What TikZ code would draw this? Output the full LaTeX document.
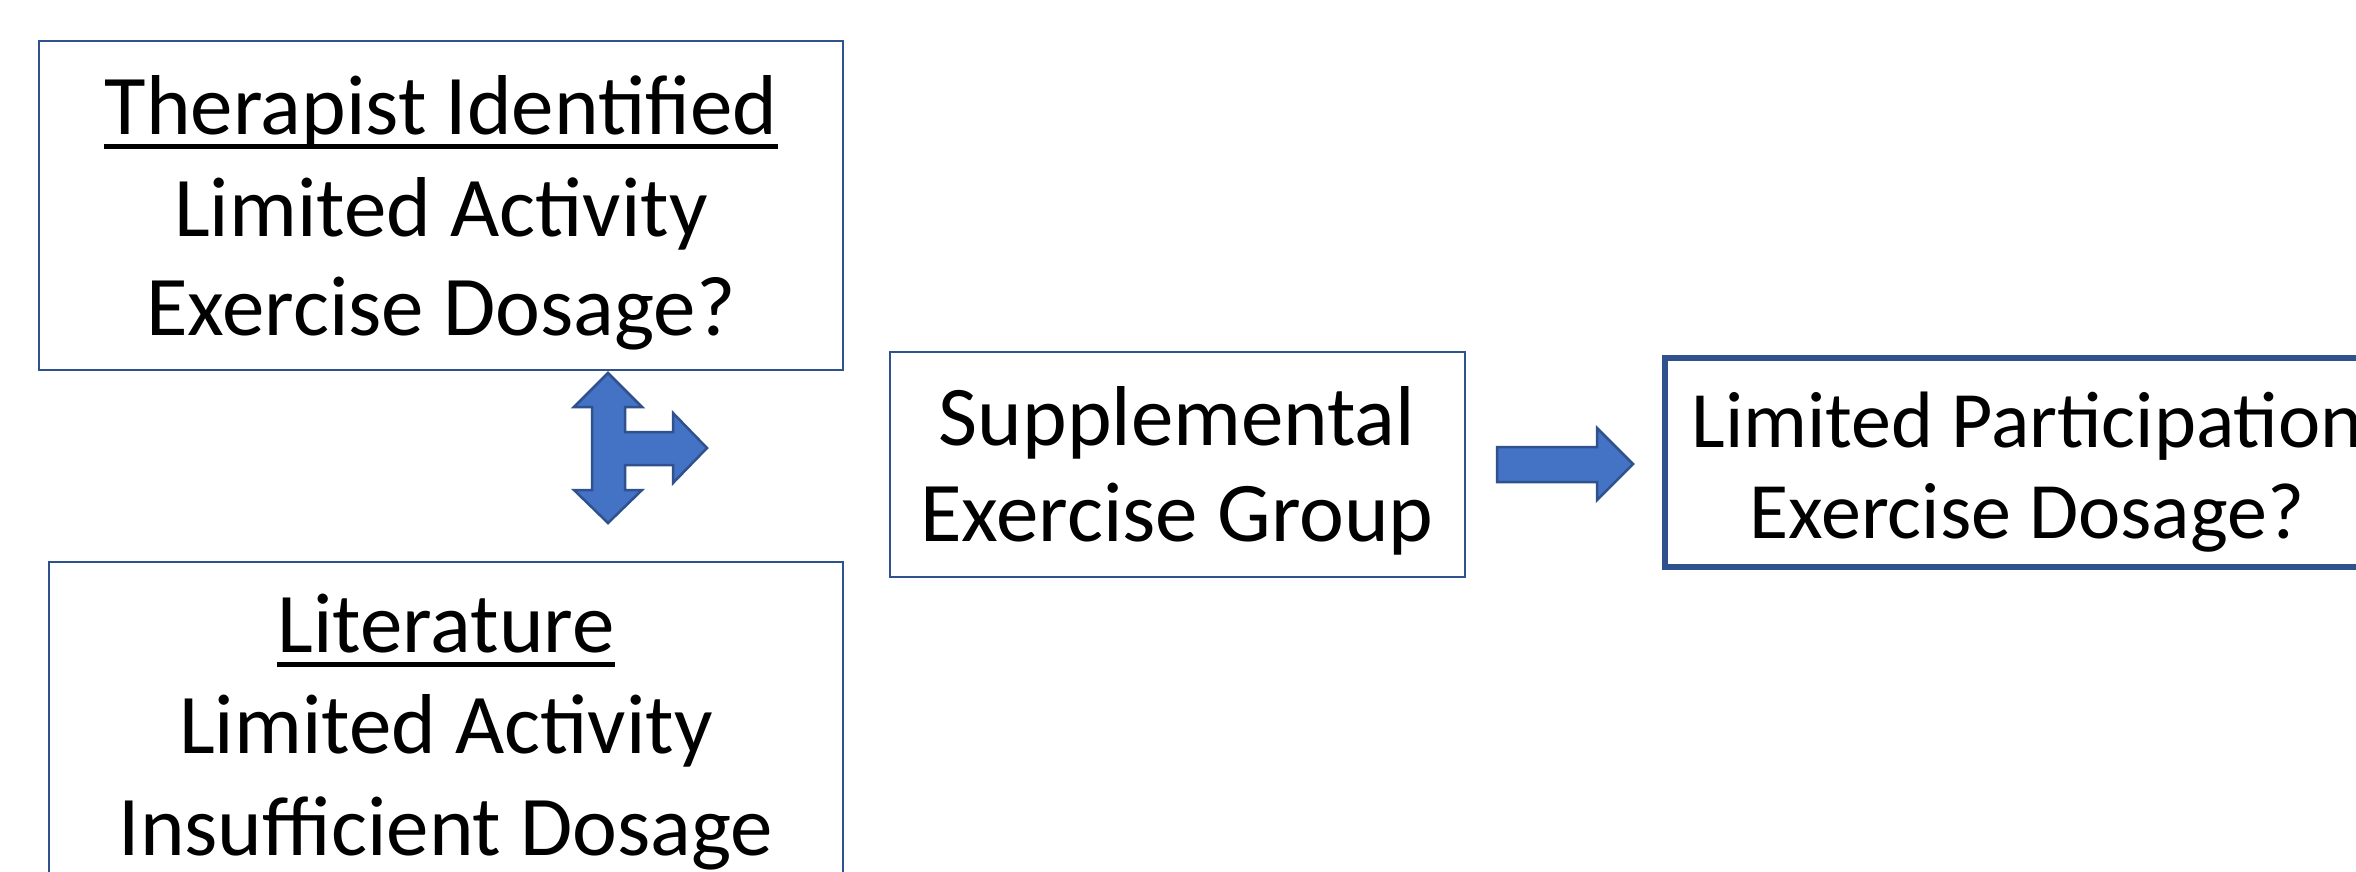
\documentclass[tikz,border=0pt]{standalone}
\usepackage{fontspec}
\setmainfont{Carlito}
\definecolor{boxblue}{HTML}{4472C4}
\definecolor{darkblue}{HTML}{2F528F}
\tikzset{
  thinbox/.style={draw=darkblue, line width=1.5pt, fill=none},
  thickbox/.style={draw=darkblue, line width=6pt, fill=none},
  txt/.style={anchor=base, inner sep=0pt, font=\fontsize{85}{100}\selectfont, text=black},
  txtsmall/.style={anchor=base, inner sep=0pt, font=\fontsize{80}{96}\selectfont, text=black},
  blockarrow/.style={fill=boxblue, draw=darkblue, line width=2.5pt, line join=miter},
  uline/.style={line width=5pt, black}
}
\begin{document}
\begin{tikzpicture}[x=1pt, y=-1pt]
\clip (0,0) rectangle (2356,871);
\fill[white] (0,0) rectangle (2356,871);
% boxes
\draw[thinbox] (39,41) rectangle (843,370);
\draw[thinbox] (49,562) rectangle (843,920);
\draw[thinbox] (890,352) rectangle (1465,577);
\draw[thickbox] (1665,357.5) rectangle (2420,567);
% box 1 text
\node[txt] (t1a) at (441,134) {Therapist Identified};
\node[txt] (t1b) at (441,236) {Limited Activity};
\node[txt] (t1c) at (441,335) {Exercise Dosage?};
\draw[uline] ([yshift=-12.5pt]t1a.base west) -- ([yshift=-12.5pt]t1a.base east);
% box 2 text
\node[txt] (t2a) at (446,652) {Literature};
\node[txt] (t2b) at (446,753) {Limited Activity};
\node[txt] (t2c) at (446,855) {Insufficient Dosage};
\draw[uline] ([yshift=-12.5pt]t2a.base west) -- ([yshift=-12.5pt]t2a.base east);
% box 3 text
\node[txt] (t3a) at (1177,445) {Supplemental};
\node[txt] (t3b) at (1177,541) {Exercise Group};
% box 4 text
\node[txtsmall] (t4a) at (2027,447) {Limited Participation};
\node[txtsmall] (t4b) at (2027,538) {Exercise Dosage?};
% T-shaped double arrow
\draw[blockarrow] (608,373) -- (642,407) -- (625,407) -- (625,432) -- (673,432) -- (673,413)
  -- (707,448) -- (673,483) -- (673,465) -- (625,465) -- (625,490) -- (642,490)
  -- (608,523) -- (574,490) -- (592,490) -- (592,407) -- (574,407) -- cycle;
% right arrow
\draw[blockarrow] (1497,447) -- (1597,447) -- (1597,428) -- (1633,464) -- (1597,500)
  -- (1597,482) -- (1497,482) -- cycle;
\end{tikzpicture}
\end{document}
